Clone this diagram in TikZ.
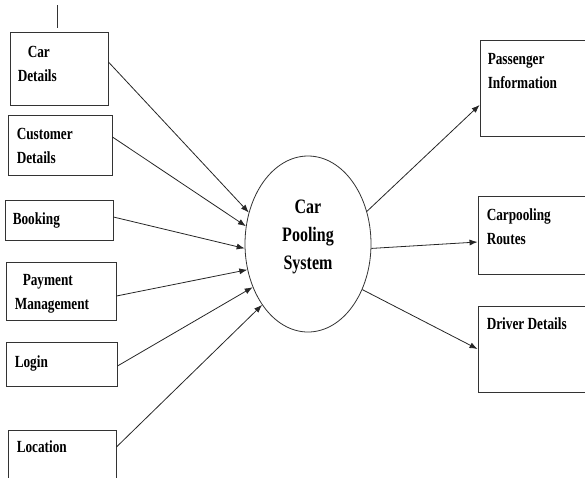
\documentclass[tikz,border=0pt]{standalone}
\usepackage{fontspec}
\newfontfamily\dfdfont{Liberation Serif}[FakeStretch=0.78]
\usetikzlibrary{arrows.meta, shapes.geometric}

\begin{document}
\begin{tikzpicture}[
    x=1pt, y=1pt,
    store/.style = {rectangle, draw=black!80, line width=0.9pt, inner sep=0pt},
    txt/.style = {anchor=base west, align=left, inner sep=0pt, font=\dfdfont\bfseries\fontsize{17}{24}\selectfont},
    ctr/.style = {anchor=center, align=center, inner sep=0pt, font=\dfdfont\bfseries\fontsize{20.5}{28}\selectfont},
    process/.style = {ellipse, draw=black!80, line width=0.8pt, minimum width=126pt, minimum height=176pt, inner sep=0pt},
    arrow/.style = {draw, -{Latex[length=8pt, width=6pt]}, line width=0.8pt, color=black!85}
]
    \useasboundingbox (0,0) rectangle (585,-477);
    \clip (0,0) rectangle (585,-477);

    % Inputs (label base = last line)
    \node (cardet) [store, minimum width=98pt, minimum height=73pt,
        label={[txt, xshift=8pt, yshift=-50pt]north west:\hspace*{10pt}Car\\Details}] at (59,-68.5) {};
    \node (custdet) [store, minimum width=104pt, minimum height=60pt,
        label={[txt, xshift=9pt, yshift=-49pt]north west:Customer\\Details}] at (60,-145) {};
    \node (booking) [store, minimum width=108pt, minimum height=40pt,
        label={[txt, xshift=8pt, yshift=-25pt]north west:Booking}] at (59,-220) {};
    \node (payment) [store, minimum width=110pt, minimum height=58pt,
        label={[txt, xshift=9pt, yshift=-48pt]north west:\hspace*{8pt}Payment\\Management}] at (61,-291) {};
    \node (login) [store, minimum width=111pt, minimum height=44pt,
        label={[txt, xshift=9pt, yshift=-26pt]north west:Login}] at (61.5,-364) {};
    \node (location) [store, minimum width=108pt, minimum height=56pt,
        label={[txt, xshift=9pt, yshift=-23pt]north west:Location}] at (62,-458) {};

    % Process
    \node (system) [process, label={[ctr, yshift=7pt]center:Car\\Pooling\\System}] at (308,-244) {};

    % Outputs
    \node (passinfo) [store, minimum width=110pt, minimum height=96pt,
        label={[txt, xshift=8pt, yshift=-49pt]north west:Passenger\\Information}] at (535,-88) {};
    \node (routes) [store, minimum width=112pt, minimum height=78pt,
        label={[txt, xshift=9pt, yshift=-49pt]north west:Carpooling\\Routes}] at (534,-235) {};
    \node (driver) [store, minimum width=112pt, minimum height=86pt,
        label={[txt, xshift=9pt, yshift=-24pt]north west:Driver Details}] at (534,-349) {};

    % Stub above Car Details
    \coordinate (stub) at (57,-5);
    \draw [line width=0.9pt, black!80] (stub) -- ++(0,-23);

    % Flows in
    \draw [arrow] ([yshift=6.5pt]cardet.east) -- (system.152);
    \draw [arrow] ([yshift=8pt]custdet.east) -- (system.164);
    \draw [arrow] ([yshift=3pt]booking.east) -- (system.184);
    \draw [arrow] ([yshift=-5pt]payment.east) -- (system.203);
    \draw [arrow] ([yshift=-2pt]login.east) -- (system.218);
    \draw [arrow] ([yshift=11pt]location.east) -- (system.233);

    % Flows out
    \draw [arrow] (system.29) -- ([yshift=-17pt]passinfo.west);
    \draw [arrow] (system.356) -- ([yshift=-7pt]routes.west);
    \draw [arrow] (system.320) -- (driver.west);

\end{tikzpicture}
\end{document}
